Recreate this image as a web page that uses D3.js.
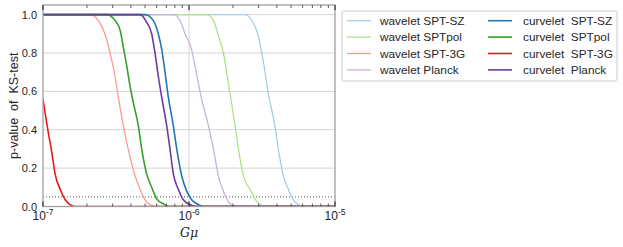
<!DOCTYPE html>
<html>
<head>
<meta charset="utf-8">
<script src="https://cdn.jsdelivr.net/npm/d3@7"></script>
<style>
  html, body { margin: 0; padding: 0; background: #fff; overflow: hidden; }
  svg { display: block; }
</style>
</head>
<body>
<div id="chart"></div>
<script>
// Data: [G mu, p-value of KS-test]
const waveletSPTSZ = [[1e-7, 1], [2.42e-6, 1], [2.69e-6, 0.97], [2.98e-6, 0.89], [3.15e-6, 0.8], [3.32e-6, 0.7],
    [3.49e-6, 0.59], [3.88e-6, 0.42], [4.09e-6, 0.3], [4.43e-6, 0.16], [4.79e-6, 0.09], [5.18e-6, 0.035],
    [5.61e-6, 0.01], [6.07e-6, 0], [1e-5, 0]];
const waveletSPTpol = [[1e-7, 1], [1.32e-6, 1], [1.47e-6, 0.97], [1.59e-6, 0.89], [1.72e-6, 0.8], [1.81e-6, 0.7],
    [1.91e-6, 0.59], [2.07e-6, 0.42], [2.18e-6, 0.3], [2.36e-6, 0.16], [2.62e-6, 0.09], [2.83e-6, 0.04],
    [3.06e-6, 0.01], [3.32e-6, 0], [1e-5, 0]];
const waveletSPT3G = [[1e-7, 1], [2.1e-7, 1], [2.52e-7, 0.94], [2.73e-7, 0.87], [2.88e-7, 0.8], [3.11e-7, 0.68],
    [3.28e-7, 0.57], [3.64e-7, 0.38], [3.94e-7, 0.26], [4.27e-7, 0.16], [4.62e-7, 0.09], [5.0e-7, 0.035],
    [5.41e-7, 0.01], [5.85e-7, 0], [1e-5, 0]];
const waveletPlanck = [[1e-7, 1], [7.81e-7, 1], [8.68e-7, 0.97], [9.39e-7, 0.9], [1.04e-6, 0.82], [1.1e-6, 0.73],
    [1.16e-6, 0.64], [1.22e-6, 0.56], [1.36e-6, 0.42], [1.47e-6, 0.3], [1.59e-6, 0.16], [1.72e-6, 0.08],
    [1.86e-6, 0.026], [2.01e-6, 0.005], [2.18e-6, 0], [1e-5, 0]];
const curveletSPTSZ = [[1e-7, 1], [5.0e-7, 1], [5.69e-7, 0.97], [6.16e-7, 0.9], [6.5e-7, 0.82], [6.85e-7, 0.7],
    [7.22e-7, 0.57], [7.81e-7, 0.42], [8.24e-7, 0.3], [8.91e-7, 0.16], [9.64e-7, 0.08], [1.043e-6, 0.035],
    [1.158e-6, 0.01], [1.253e-6, 0], [1e-5, 0]];
const curveletSPTpol = [[1e-7, 1], [2.73e-7, 1], [3.11e-7, 0.97], [3.37e-7, 0.92], [3.55e-7, 0.83], [3.75e-7, 0.73],
    [3.94e-7, 0.63], [4.16e-7, 0.54], [4.5e-7, 0.42], [4.74e-7, 0.3], [5.13e-7, 0.17], [5.55e-7, 0.1],
    [6.01e-7, 0.04], [6.67e-7, 0.014], [7.41e-7, 0], [1e-5, 0]];
const curveletSPT3G = [[1e-7, 0.56], [1.09e-7, 0.38], [1.15e-7, 0.28], [1.21e-7, 0.17], [1.31e-7, 0.09],
    [1.42e-7, 0.035], [1.53e-7, 0.01], [1.66e-7, 0], [1e-5, 0]];
const curveletPlanck = [[1e-7, 1], [4.62e-7, 1], [5.13e-7, 0.96], [5.55e-7, 0.9], [5.85e-7, 0.8], [6.16e-7, 0.68],
    [6.5e-7, 0.57], [7.04e-7, 0.42], [7.41e-7, 0.3], [7.81e-7, 0.17], [8.45e-7, 0.09], [9.14e-7, 0.035],
    [1.016e-6, 0.01], [1.129e-6, 0], [1e-5, 0]];

const seriesNames = ["wavelet SPT-SZ", "wavelet SPTpol", "wavelet SPT-3G", "wavelet Planck",
    "curvelet\u00a0 SPT-SZ", "curvelet\u00a0 SPTpol", "curvelet\u00a0 SPT-3G", "curvelet\u00a0 Planck"];
const seriesData = [waveletSPTSZ, waveletSPTpol, waveletSPT3G, waveletPlanck,
    curveletSPTSZ, curveletSPTpol, curveletSPT3G, curveletPlanck];
const yTicks = [0, 0.2, 0.4, 0.6, 0.8, 1.0];
const xMajorTicks = [1e-7, 1e-6, 1e-5];
const xTickExponents = ["-7", "-6", "-5"];
const thresholdP = 0.05;

// Paired colours, light = wavelet, dark = curvelet
const colors = ["#a6cee3", "#b2df8a", "#fb9a99", "#cab2d6", "#1f78b4", "#33a02c", "#e31a1c", "#6a3d9a"];

const width = 623;
const height = 247;
const margin = { top: 5, left: 43 };
const innerWidth = 292;
const innerHeight = 201.5;
const sans = "Liberation Sans, Arial, sans-serif";
const textColor = "#262626";

const svg = d3.select("#chart").append("svg")
    .attr("width", width)
    .attr("height", height)
    .attr("font-family", sans);

const x = d3.scaleLog().domain([1e-7, 1e-5]).range([margin.left, margin.left + innerWidth]);
const y = d3.scaleLinear().domain([0, 1.05]).range([margin.top + innerHeight, margin.top]);

// Grid
svg.append("g").selectAll("line")
    .data(yTicks.slice(1))
    .enter().append("line")
    .attr("x1", x.range()[0]).attr("x2", x.range()[1])
    .attr("y1", d => y(d)).attr("y2", d => y(d))
    .attr("stroke", "#d4d4d4").attr("stroke-width", 1);

svg.append("line")
    .attr("x1", x(1e-6)).attr("x2", x(1e-6))
    .attr("y1", y.range()[0]).attr("y2", y.range()[1])
    .attr("stroke", "#d4d4d4").attr("stroke-width", 1);

// Clip
svg.append("clipPath").attr("id", "clip")
    .append("rect")
    .attr("x", margin.left).attr("y", margin.top)
    .attr("width", innerWidth).attr("height", innerHeight);

// Dotted threshold
svg.append("line")
    .attr("x1", x.range()[0]).attr("x2", x.range()[1])
    .attr("y1", y(thresholdP)).attr("y2", y(thresholdP))
    .attr("stroke", "#555").attr("stroke-width", 1)
    .attr("stroke-dasharray", "1,2");

// Lines
const line = d3.line()
    .x(d => x(d[0]))
    .y(d => y(d[1]))
    .curve(d3.curveMonotoneX);

svg.append("g").attr("clip-path", "url(#clip)")
    .selectAll("path")
    .data(seriesData)
    .enter().append("path")
    .attr("d", line)
    .attr("fill", "none")
    .attr("stroke", (d, i) => colors[i])
    .attr("stroke-width", (d, i) => i < 4 ? 1.3 : 1.6);

// Frame
svg.append("rect")
    .attr("x", margin.left).attr("y", margin.top)
    .attr("width", innerWidth).attr("height", innerHeight)
    .attr("fill", "none")
    .attr("stroke", "#a0a0a0").attr("stroke-width", 1.3);

// Log ticks, inward on bottom and top
const allTicks = x.ticks();
const tickG = svg.append("g");
[y.range()[0], y.range()[1]].forEach((yy, k) => {
    const dir = k === 0 ? -1 : 1;
    tickG.selectAll(null)
        .data(allTicks)
        .enter().append("line")
        .attr("x1", d => x(d)).attr("x2", d => x(d))
        .attr("y1", yy)
        .attr("y2", d => yy + dir * (xMajorTicks.includes(d) ? 5 : 3))
        .attr("stroke", "#333")
        .attr("stroke-width", d => xMajorTicks.includes(d) ? 1.2 : 0.8);
});

// Y tick labels
svg.append("g").selectAll("text")
    .data(yTicks)
    .enter().append("text")
    .attr("x", margin.left - 6)
    .attr("y", d => y(d) + 4)
    .attr("text-anchor", "end")
    .attr("font-size", 11)
    .attr("fill", textColor)
    .text(d => d.toFixed(1));

// X tick labels
const xl = svg.append("g").selectAll("text")
    .data(xMajorTicks)
    .enter().append("text")
    .attr("x", d => x(d))
    .attr("y", 220)
    .attr("text-anchor", "middle")
    .attr("font-size", 12)
    .attr("fill", textColor);
xl.append("tspan").text("10");
xl.append("tspan")
    .attr("dy", -5)
    .attr("font-size", 8.5)
    .text((d, i) => xTickExponents[i]);

// Axis labels
svg.append("text")
    .attr("x", x(1e-6))
    .attr("y", 237)
    .attr("text-anchor", "middle")
    .attr("font-family", "DejaVu Serif, serif")
    .attr("font-style", "italic")
    .attr("font-size", 12.5)
    .attr("fill", textColor)
    .text("Gμ");

svg.append("text")
    .attr("transform", `translate(17.5, ${margin.top + innerHeight / 2}) rotate(-90)`)
    .attr("text-anchor", "middle")
    .attr("font-size", 12.5)
    .attr("fill", textColor)
    .text("p-value\u00a0 of\u00a0 KS-test");

// Legend
const legend = svg.append("g");
legend.append("rect")
    .attr("x", 342).attr("y", 11)
    .attr("width", 275).attr("height", 70)
    .attr("fill", "#fff")
    .attr("stroke", "#cccccc").attr("stroke-width", 1)
    .attr("rx", 2);

const item = legend.selectAll("g.item")
    .data(seriesNames)
    .enter().append("g")
    .attr("class", "item")
    .attr("transform", (d, i) => `translate(${i < 4 ? 347 : 488}, ${20.7 + (i % 4) * 16.4})`);

item.append("line")
    .attr("x1", 0).attr("x2", 24)
    .attr("stroke", (d, i) => colors[i])
    .attr("stroke-width", (d, i) => i < 4 ? 1.3 : 1.6);

item.append("text")
    .attr("x", (d, i) => i < 4 ? 33 : 35)
    .attr("y", 4.2)
    .attr("font-size", 11.8)
    .attr("fill", textColor)
    .text(d => d);
</script>
</body>
</html>
